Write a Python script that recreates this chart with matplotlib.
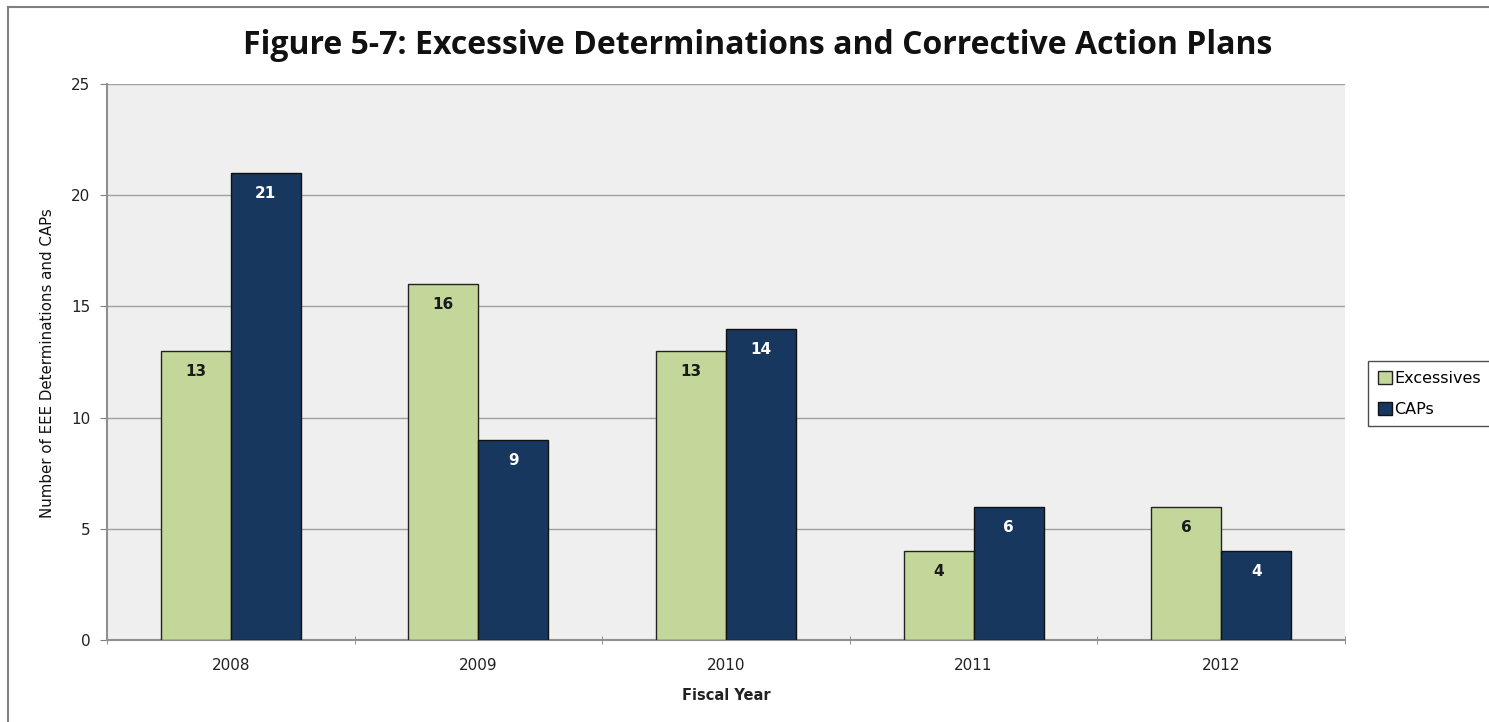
import matplotlib.pyplot as plt
from matplotlib.lines import Line2D
import numpy as np

years = ["2008", "2009", "2010", "2011", "2012"]
excessives = [13, 16, 13, 4, 6]
caps = [21, 9, 14, 6, 4]

GREEN = "#C4D79B"
NAVY = "#17375E"

fig = plt.figure(figsize=(14.89, 7.22), dpi=100)
ax = fig.add_axes([107 / 1489, 82 / 722, 1238 / 1489, 556 / 722])
ax.set_facecolor("#EFEFEF")

x = np.arange(len(years))
w = 0.283
b1 = ax.bar(x - w / 2, excessives, w, color=GREEN, edgecolor="#222222",
            linewidth=1.0, label="Excessives", zorder=3)
b2 = ax.bar(x + w / 2, caps, w, color=NAVY, edgecolor="#111111",
            linewidth=1.0, label="CAPs", zorder=3)

for bars, vals, col in [(b1, excessives, "#1a1a1a"), (b2, caps, "white")]:
    for rect, v in zip(bars, vals):
        ax.annotate(str(v), (rect.get_x() + rect.get_width() / 2, v),
                    xytext=(0, -15), textcoords="offset points",
                    ha="center", va="center", fontsize=11,
                    fontweight="bold", color=col, zorder=4)

ax.set_xlim(-0.5, len(years) - 0.5)
ax.set_ylim(0, 25)
ax.set_yticks([0, 5, 10, 15, 20, 25])
ax.set_xticks(x)
ax.set_xticklabels(years)
ax.set_xticks(np.arange(-0.5, len(years), 1.0), minor=True)
ax.tick_params(axis="x", which="major", length=0, pad=13, labelsize=11,
               labelcolor="#222222")
ax.tick_params(axis="x", which="minor", length=6, color="#808080", direction="inout")
ax.tick_params(axis="y", length=5, color="#808080", pad=7, labelsize=11,
               labelcolor="#222222")

ax.yaxis.grid(True, color="#A0A0A0", linewidth=1.0, zorder=0)
ax.set_axisbelow(True)
for s in ["top", "right"]:
    ax.spines[s].set_visible(False)
for s in ["left", "bottom"]:
    ax.spines[s].set_color("#909090")
    ax.spines[s].set_linewidth(1.5)

ax.set_xlabel("Fiscal Year", fontsize=10.5, fontweight="bold", color="#222222",
              labelpad=11)
fig.text(48 / 1489, 0.497, "Number of EEE Determinations and CAPs", rotation=90,
         ha="center", va="center", fontsize=10.8, color="#111111")

fig.text(758 / 1489, 1 - 45 / 722,
         "Figure 5-7: Excessive Determinations and Corrective Action Plans",
         ha="center", va="center", fontsize=23, fontweight="bold",
         family="Open Sans", color="#111111")

leg = fig.legend(handles=[b1, b2], labels=["Excessives", "CAPs"],
                 loc="upper left", bbox_to_anchor=(1368 / 1489, 1 - 361 / 722),
                 frameon=True, fancybox=False, edgecolor="#222222",
                 fontsize=11.5, handlelength=0.9, handleheight=0.9,
                 handletextpad=0.15, labelspacing=1.0, borderpad=0.6,
                 borderaxespad=0)
leg.get_frame().set_linewidth(1.0)

# outer frame
fig.add_artist(Line2D([8 / 1489, 1], [1 - 7 / 722, 1 - 7 / 722],
                      transform=fig.transFigure, color="#808080", lw=1.5))
fig.add_artist(Line2D([8 / 1489, 8 / 1489], [0, 1 - 7 / 722],
                      transform=fig.transFigure, color="#808080", lw=1.5))

fig.savefig("out.png", dpi=100)
